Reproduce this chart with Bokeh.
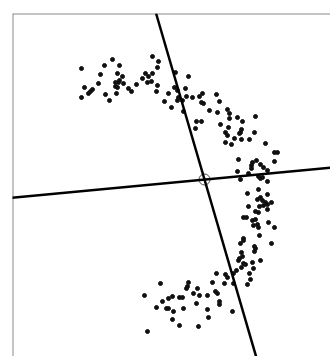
from bokeh.plotting import figure
from bokeh.models import Range1d, Span, Slope
from bokeh.embed import file_html
from bokeh.resources import INLINE

# point positions (x to the right, y downward)
xs = [81,104,112,119,100,117,122,84,92,90,88,98,81,105,109,115,118,115,117,119,123,116,128,131,136,142,145,148,152,147,151,152,158,157,157,156,168,164,171,175,174,177,177,178,
      188,185,186,192,199,202,201,203,216,219,209,217,227,229,229,237,242,255,196,201,195,220,228,241,240,239,225,227,254,234,241,249,225,231,265,183,182,
      274,277,238,256,252,251,260,263,274,251,237,248,267,240,258,260,262,267,258,247,267,257,260,262,265,267,271,259,263,248,255,258,267,243,246,252,255,253,257,258,268,274,259,243,
      240,243,254,255,254,271,241,242,238,239,243,245,252,260,241,236,253,249,216,225,227,233,250,212,224,233,247,215,217,207,199,219,219,207,232,208,
      160,188,187,197,186,193,144,172,168,179,182,162,156,166,168,183,196,173,172,179,198,147]
ys = [68,65,59,65,74,73,76,87,89,91,93,83,97,94,100,82,82,86,87,80,83,93,88,91,84,78,73,76,73,82,81,56,61,67,85,91,93,101,107,72,87,90,100,97,
      76,88,96,97,96,93,102,103,94,101,110,112,109,113,118,117,121,116,121,121,128,124,127,129,132,133,132,135,132,138,139,139,142,144,143,111,100,
      152,152,159,160,162,165,164,167,161,168,171,173,170,179,176,178,177,181,189,193,194,199,197,200,202,204,202,206,205,206,211,212,209,217,217,220,219,225,224,227,222,227,235,238,
      243,240,246,248,251,243,252,256,260,258,263,264,262,260,267,270,268,273,273,274,277,273,279,282,283,283,284,291,293,295,295,301,304,309,311,317,
      283,282,286,288,288,293,295,296,298,297,297,301,307,308,308,308,303,311,319,325,326,331]

# centre of the two axes and their slopes
center_x, center_y = 204, 179
slopes = [3.43, -0.0943]

p = figure(width=330, height=356, output_backend="svg", toolbar_location=None,
           x_range=Range1d(12, 330), y_range=Range1d(356, 13),
           min_border_left=12, min_border_top=13, min_border_right=0, min_border_bottom=0)
p.axis.visible = False
p.grid.visible = False
p.outline_line_color = None
p.background_fill_color = "white"
p.border_fill_color = "white"

p.add_layout(Span(location=12, dimension="height", line_color="#8a8a8a", line_width=2))
p.add_layout(Span(location=13, dimension="width", line_color="#8a8a8a", line_width=2))

p.scatter(xs, ys, size=4, color="#111111")

for g in slopes:
    p.add_layout(Slope(gradient=g, y_intercept=center_y - g * center_x,
                       line_color="black", line_width=2.5))

p.scatter([center_x], [center_y], marker="circle", size=11, fill_color=None,
          line_color="#444444", line_width=1)

open("out.html", "w").write(file_html(p, INLINE))
